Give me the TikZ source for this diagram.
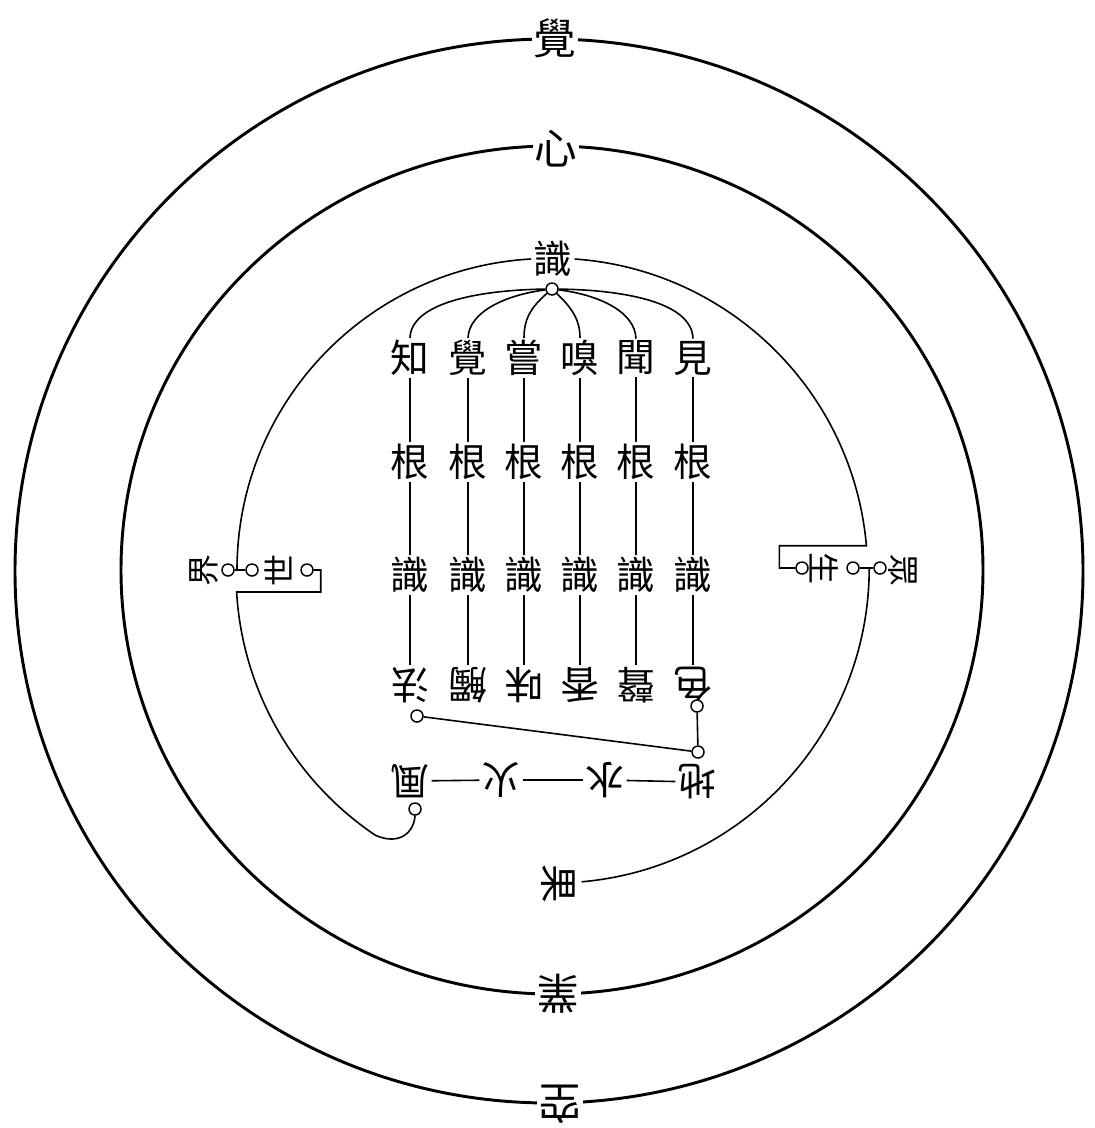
\documentclass[tikz,border=0pt]{standalone}
\usepackage{fontspec}
\newfontfamily\cjk{Noto Sans CJK TC}
\usetikzlibrary{calc}
\begin{document}
\begin{tikzpicture}[x=0.75pt,y=-0.75pt,
  ring/.style={line width=2.2pt},
  ln/.style={line width=1.2pt},
  ch/.style={font=\cjk\fontsize{29}{29}\selectfont, inner sep=1.5pt},
  chw/.style={ch, fill=white},
  big/.style={chw, font=\cjk\fontsize{32}{32}\selectfont},
  side/.style={ch, font=\cjk\fontsize{24}{24}\selectfont, inner sep=1pt},
  dot/.style={circle, draw, line width=1.1pt, fill=white, minimum size=9pt, inner sep=0pt},
]
\useasboundingbox (0,0) rectangle (1095,1128);
\fill[white] (0,0) rectangle (1095,1128);
\coordinate (O) at (549,571);
\coordinate (M) at (552,570);
% outer rings
\draw[ring] (O) ellipse[x radius=534, y radius=532];
\draw[ring] (M) ellipse[x radius=431, y radius=424];
\node[big] (jue) at (555,38) {覺};
\node[big, rotate=180] (kong) at (560,1104) {空};
\node[big] (xin) at (556,149) {心};
\node[big, rotate=180] (ye) at (558,994) {業};

% columns
\foreach \i/\x/\t/\b in {1/410/知/法, 2/468/覺/觸, 3/524/嘗/味, 4/580/嗅/香, 5/636/聞/聲, 6/693/見/色}{
  \node[ch] (k\i) at (\x,358) {\t};
  \node[ch] (g\i) at (\x,462) {根};
  \node[ch] (s\i) at (\x,575) {識};
  \node[ch, rotate=180] (c\i) at (\x,685) {\b};
  \draw[ln] (k\i) -- (g\i);
  \draw[ln] (g\i) -- (s\i);
  \draw[ln] (s\i) -- (c\i);
}

% side groups
\node[side, rotate=90] (jie) at (204,570) {界};
\node[dot] (l1) at (228,570) {};
\node[dot] (l2) at (252,570) {};
\node[side, rotate=90] (shijie) at (278,570) {世};
\node[dot] (l3) at (307,570) {};
\draw[ln] (l1) -- (l2);
\coordinate (jl) at ($(l1)!0.375!(l2)$);

\node[dot] (r1) at (802,568) {};
\node[side, rotate=-90] (sheng) at (824,568) {生};
\node[dot] (r2) at (853,568) {};
\node[dot] (r3) at (880,568) {};
\node[side, rotate=-90] (zhong) at (903,570) {眾};
\draw[ln] (r2) -- (r3);
\coordinate (jr) at ($(r2)!0.6!(r3)$);

% four elements
\node[ch, rotate=180] (feng) at (410,781) {風};
\node[ch, rotate=180] (huo) at (501,780) {火};
\node[ch, rotate=180] (shui) at (605,780) {水};
\node[ch, rotate=180] (di) at (697,782) {地};
\draw[ln] (feng) -- (huo);
\draw[ln] (huo) -- (shui);
\draw[ln] (shui) -- (di);
\node[dot] (fc) at (415,809) {};

% top of inner ring
\node[chw] (shi) at (553,259) {識};
\node[dot] (hub) at (552,289) {};
\draw[ln] (jl) arc[start angle=180, end angle=266.8, radius=311.5];
\draw[ln] (shi.east) arc[start angle=274, end angle=355, radius=315]
  -- ++(-87,0) |- (r1.west);
\draw[ln] (l3.east) -- ++(7,0) |- (236.6,592)
  arc[start angle=176.6, end angle=124, radius=316]
  .. controls (400,846) and (414,832) .. (fc.south);

% hub curves
\draw[ln] (hub) .. controls (478,290) and (411,303) .. (k1.north);
\draw[ln] (hub) .. controls (505,295) and (469,312) .. (k2.north);
\draw[ln] (hub) .. controls (530,308) and (524,320) .. (k3.north);
\draw[ln] (hub) .. controls (572,308) and (580,320) .. (k4.north);
\draw[ln] (hub) .. controls (600,295) and (635,312) .. (k5.north);
\draw[ln] (hub) .. controls (627,290) and (692,303) .. (k6.north);

% objects
\node[dot] (fa) at (417,716) {};
\node[dot] (se) at (697,706) {};
\node[dot] (dj) at (698,752) {};
\draw[ln] (se) -- (dj);
\draw[ln] (fa) -- (dj);

% lower right arc to fruit
\draw[ln] (jr) arc[start angle=0, end angle=85, radius=315];
\node[chw, rotate=-90] (guo) at (558,884) {果};
\end{tikzpicture}
\end{document}
